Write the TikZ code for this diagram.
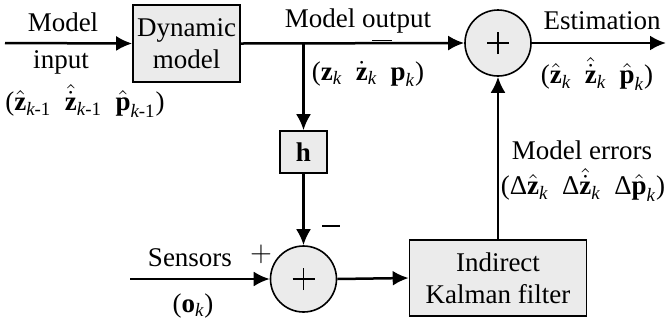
\documentclass[tikz,border=0pt]{standalone}
\usepackage{amsmath}
\usepackage{fontspec}
\setmainfont{Liberation Serif}
\usetikzlibrary{arrows.meta,positioning}
\definecolor{boxgray}{HTML}{EBEBEB}
\tikzstyle{block} = [rectangle, draw, fill=boxgray, align=center, line width=0.8pt, inner sep=0pt]
\tikzstyle{sum} = [circle, draw, fill=boxgray, line width=0.8pt, minimum size=33pt, inner sep=0pt,
  path picture={\draw[line width=0.8pt] (path picture bounding box.center) ++(-5.5pt,0pt) -- ++(11pt,0pt)
    (path picture bounding box.center) ++(0pt,-5.5pt) -- ++(0pt,11pt);}]
\tikzstyle{line} = [draw, -{Latex[length=8pt,width=7.5pt]}]
\tikzstyle{lbl} = [inner sep=0pt]
\newcommand{\vz}{\text{\textbf{z}}}
\newcommand{\vp}{\text{\textbf{p}}}
\newcommand{\vo}{\text{\textbf{o}}}
\newcommand{\sk}{_{\textit{k}}}
\newcommand{\skm}{_{\textit{k}\text{-1}}}
\begin{document}
\begin{tikzpicture}[x=0.5pt, y=-0.5pt, line width=1.25pt, font=\fontsize{13.5}{16}\selectfont]
    \useasboundingbox (0,0) rectangle (666,323);
    % Nodes
    \node [block, minimum width=53.5pt, minimum height=38.5pt] (dynamic) at (186.5,43.5) {Dynamic\\model};
    \node [sum] (sumtop) at (498,43) {};
    \node [block, minimum width=23.5pt, minimum height=21pt] (h) at (303.5,152) {\textbf{h}};
    \node [sum] (sumbot) at (303.5,279) {};
    \node [block, minimum width=88.5pt, minimum height=38pt] (kalman) at (498,278) {Indirect\\Kalman filter};
    \coordinate (input) at (5,43);
    \coordinate (branch) at (h.north |- dynamic.east);
    \coordinate (estim) at (666,43);
    \coordinate (sensors) at (130,279);

    % arrows
    \draw [line] (input) -- (dynamic.west);
    \draw [line] (dynamic.east) -- (sumtop.west);
    \draw [line] (branch) -- (h.north);
    \draw [line] (h.south) -- (sumbot.north);
    \draw [line] (sensors) -- (sumbot.west);
    \draw [line] (sumbot.east) -- (kalman.west);
    \draw [line] (kalman.north) -- (sumtop.south);
    \draw [line] (sumtop.east) -- (estim);

    % labels
    \node [lbl] (inputtop) at (63,22) {Model};
    \node [lbl] (inputbot) at (61,62) {input};
    \node [lbl] (inputvec) at (85,101) {($\hat{\vz}\skm$\ \ $\hat{\dot{\vz}}\skm$\ \ $\hat{\vp}\skm$)};
    \node [lbl] (outtext) at (358,21) {Model output};
    \node [lbl] (outvec) at (368,74) {($\vz\sk$\ \ $\dot{\vz}\sk$\ \ $\vp\sk$)};
    \node [lbl] (esttext) at (602,21) {Estimation};
    \node [lbl] (estvec) at (597,74) {($\hat{\vz}\sk$\ \ $\hat{\dot{\vz}}\sk$\ \ $\hat{\vp}\sk$)};
    \node [lbl] (errtext) at (582,150) {Model errors};
    \node [lbl] (errvec) at (583,185) {(Δ$\hat{\vz}\sk$\ \ Δ$\hat{\dot{\vz}}\sk$\ \ Δ$\hat{\vp}\sk$)};
    \node [lbl] (senstext) at (190,258) {Sensors};
    \node [lbl] (sensvec) at (193,306) {($\vo\sk$)};
    \node [lbl, font=\fontsize{15}{15}\selectfont] (plussens) at (261,254) {$+$};
    \node [lbl] (minush) at (331,226) {\rule{9pt}{0.75pt}};
    \node [lbl] (minustop) at (382,40.5) {\rule{10pt}{0.9pt}};
\end{tikzpicture}
\end{document}
